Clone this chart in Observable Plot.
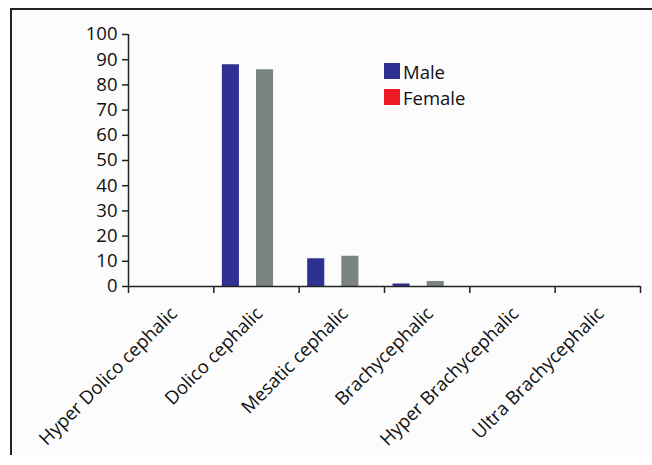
<!DOCTYPE html>
<html>
<head>
<meta charset="utf-8">
<script src="https://cdn.jsdelivr.net/npm/d3@7"></script>
<script src="https://cdn.jsdelivr.net/npm/@observablehq/plot@0.6"></script>
<style>
  html, body { margin: 0; padding: 0; background: #ffffff; }
  #wrap { position: relative; width: 652px; height: 465px; overflow: hidden; }
  #frame { position: absolute; left: 10px; top: 8px; width: 660px; height: 445px;
           border-left: 2px solid #222; border-top: 2px solid #222; background: #fcfcfc; }
  #chart { position: absolute; left: 0; top: 0; }
  #legend { position: absolute; left: 384px; top: 58px; font-family: "Open Sans", sans-serif;
            font-size: 18.5px; color: #111; }
  .item { display: flex; align-items: center; height: 26px; }
  .sw { width: 16px; height: 16px; margin-right: 3px; }
</style>
</head>
<body>
<div id="wrap">
  <div id="frame"></div>
  <div id="chart"></div>
  <div id="legend"></div>
</div>
<script>
const categories = ["Hyper Dolico cephalic", "Dolico cephalic", "Mesatic cephalic",
                    "Brachycephalic", "Hyper Brachycephalic", "Ultra Brachycephalic"];
const seriesNames = ["Male", "Female", "Series 3", "Series 4"];
const maleValues    = [0, 88, 11, 1, 0, 0];
const femaleValues  = [0, 0, 0, 0, 0, 0];
const series3Values = [0, 86, 12, 2, 0, 0];
const series4Values = [0, 0, 0, 0, 0, 0];
const seriesColors  = ["#2e3192", "#ed1c24", "#7c8482", "#a0a0a0"];
const legendNames   = ["Male", "Female"];
const yTicks = [0, 10, 20, 30, 40, 50, 60, 70, 80, 90, 100];

const valuesBySeries = [maleValues, femaleValues, series3Values, series4Values];
const nS = seriesNames.length;
const slot = 1 / (nS + 1);
const rows = [];
categories.forEach((c, i) => {
  valuesBySeries.forEach((vals, s) => {
    if (vals[i] > 0) rows.push({category: c, ci: i, series: seriesNames[s], si: s, value: vals[i]});
  });
});

const chart = Plot.plot({
  width: 652,
  height: 465,
  marginLeft: 128,
  marginRight: 12,
  marginTop: 34,
  marginBottom: 179,
  style: {background: "transparent", fontFamily: "Open Sans, sans-serif", fontSize: "18px", color: "#111"},
  x: {domain: [0, categories.length], label: null},
  y: {domain: [0, 100], label: null},
  color: {domain: seriesNames, range: seriesColors},
  marks: [
    Plot.rectY(rows, {
      x1: d => d.ci + slot / 2 + d.si * slot,
      x2: d => d.ci + slot / 2 + (d.si + 1) * slot,
      y1: 0,
      y2: "value",
      fill: "series"
    }),
    Plot.ruleY([0], {stroke: "#222", strokeWidth: 1.5}),
    Plot.ruleX([0], {y1: 0, y2: 100, stroke: "#222", strokeWidth: 1.5}),
    Plot.axisY({ticks: yTicks, label: null, tickSize: 6, tickPadding: 5, stroke: "#222", strokeWidth: 1.5, fontSize: 18.5, fill: "#111"}),
    Plot.axisX({ticks: d3.range(categories.length + 1), label: null, tickFormat: () => "", tickSize: 7, stroke: "#222", strokeWidth: 1.5}),
    Plot.text(categories, {
      x: (d, i) => i + 0.5,
      y: 0,
      text: d => d,
      rotate: -45,
      textAnchor: "end",
      dx: 3,
      dy: 24,
      fontSize: 18.5,
      fill: "#111"
    })
  ]
});
document.getElementById("chart").appendChild(chart);

const legend = document.getElementById("legend");
legendNames.forEach((name) => {
  const s = seriesNames.indexOf(name);
  const item = document.createElement("div");
  item.className = "item";
  const sw = document.createElement("span");
  sw.className = "sw";
  sw.style.background = seriesColors[s];
  const label = document.createElement("span");
  label.textContent = name;
  item.appendChild(sw);
  item.appendChild(label);
  legend.appendChild(item);
});
</script>
</body>
</html>
